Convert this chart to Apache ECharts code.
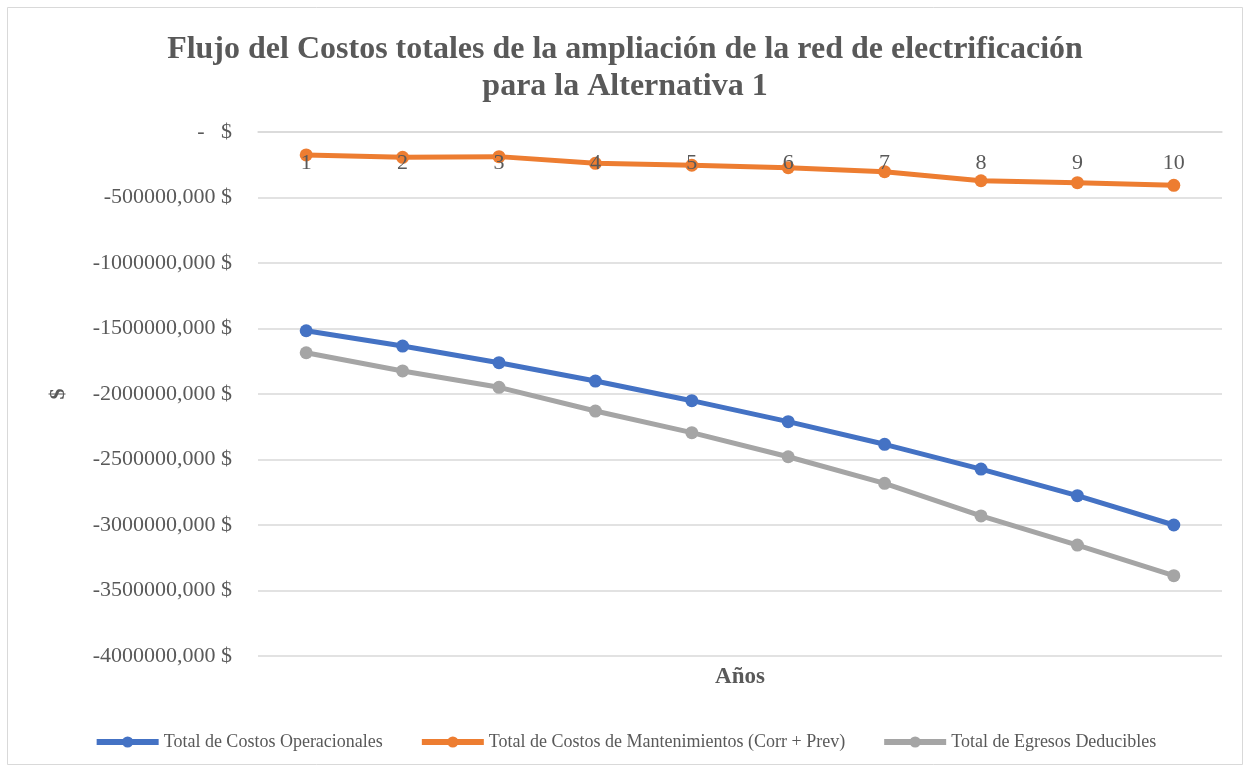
<!DOCTYPE html>
<html>
<head>
<meta charset="utf-8">
<script src="https://cdn.jsdelivr.net/npm/echarts@6/dist/echarts.min.js"></script>
<style>
html,body{margin:0;padding:0;background:#fff;}
#main{width:1250px;height:772px;}
</style>
</head>
<body>
<div id="main"></div>
<script>
const years = ['1','2','3','4','5','6','7','8','9','10'];
const costosOperacionales = [-1517000,-1634000,-1761000,-1901000,-2051000,-2211000,-2384000,-2573000,-2776000,-3000000];
const costosMantenimiento = [-175000,-193000,-188000,-239000,-254000,-272000,-303000,-372000,-387000,-407000];
const egresosDeducibles = [-1685000,-1824000,-1949000,-2130000,-2295000,-2479000,-2682000,-2931000,-3153000,-3387000];
const seriesNames = ['Total de Costos Operacionales','Total de Costos de Mantenimientos (Corr + Prev)','Total de Egresos Deducibles'];
const titleText = 'Flujo del Costos totales de la ampliación de la red de electrificación\npara la Alternativa 1';

const font = 'Liberation Serif, Times New Roman, serif';
const chart = echarts.init(document.getElementById('main'));
function mk(name, data, color){
  return {
    name, type:'line', data, color,
    lineStyle:{width:5, color},
    itemStyle:{color},
    symbol:'circle', symbolSize:13,
    showAllSymbol:true, z:2
  };
}
chart.setOption({
  animation:false,
  backgroundColor:'#fff',
  textStyle:{fontFamily:font},
  title:{
    text:titleText, left:'center', top:26,
    textStyle:{fontFamily:font, fontSize:32, fontWeight:'bold', color:'#595959', lineHeight:37}
  },
  legend:{
    bottom:16, left:'center', itemWidth:62, itemHeight:14, itemGap:36,
    lineStyle:{width:6},
    textStyle:{fontFamily:font, fontSize:18, color:'#595959'},
    data:seriesNames
  },
  grid:{left:258, right:28, top:132, bottom:116},
  xAxis:{
    type:'category', data:years, position:'top',
    axisLine:{show:true, lineStyle:{color:'#D9D9D9', width:1.5}},
    axisTick:{show:false},
    axisLabel:{inside:true, margin:20, fontFamily:font, fontSize:22, color:'#595959'},
    zlevel:1, z:10
  },
  yAxis:{
    type:'value', min:-4000000, max:0, interval:500000,
    name:'$', nameLocation:'middle', nameGap:189, nameRotate:90,
    nameTextStyle:{fontFamily:font, fontSize:22, color:'#595959', fontWeight:'bold'},
    axisLine:{show:false}, axisTick:{show:false},
    splitLine:{lineStyle:{color:'#D9D9D9', width:1.5}},
    axisLabel:{
      margin:26, fontFamily:font, fontSize:22, color:'#595959',
      formatter:function(v){ return v===0 ? '-   $' : v + ',000 $'; }
    }
  },
  graphic:[
    {type:'rect', shape:{x:7.5,y:7.5,width:1235,height:757}, style:{fill:'none', stroke:'#D9D9D9', lineWidth:1}},
    {type:'text', x:740, y:677, style:{text:'Años', font:'bold 23px '+font, fill:'#595959', textAlign:'center', textVerticalAlign:'middle'}}
  ],
  series:[
    mk(seriesNames[0], costosOperacionales, '#4472C4'),
    mk(seriesNames[1], costosMantenimiento, '#ED7D31'),
    mk(seriesNames[2], egresosDeducibles, '#A5A5A5')
  ]
});
</script>
</body>
</html>
